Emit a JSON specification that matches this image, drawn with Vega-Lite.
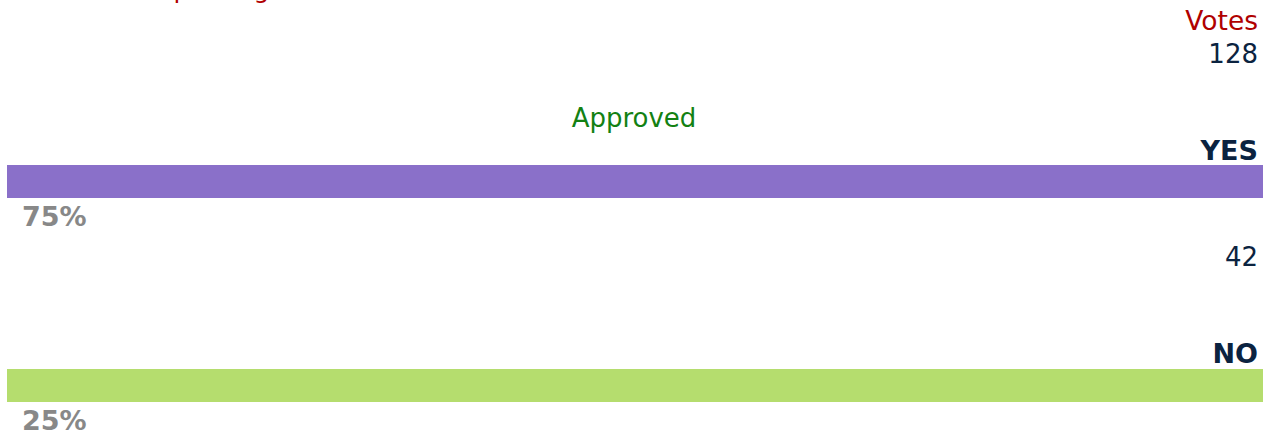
{
  "$schema": "https://vega.github.io/schema/vega-lite/v6.json",
  "width": 1272,
  "height": 435,
  "autosize": {"type": "none"},
  "padding": 0,
  "background": "white",
  "config": {"view": {"stroke": null}, "text": {"font": "DejaVu Sans"}},
  "data": {"values": [
    {"option": "YES", "votes": 128, "pct": "75%"},
    {"option": "NO", "votes": 42, "pct": "25%"}
  ]},
  "encoding": {
    "y": {"field": "option", "type": "nominal", "axis": null,
      "scale": {"domain": ["YES", "NO"], "range": [165, 402], "paddingInner": 0.838, "paddingOuter": 0}}
  },
  "layer": [
    {
      "mark": {"type": "rect"},
      "encoding": {
        "x": {"datum": 0, "type": "quantitative", "axis": null, "scale": {"domain": [0, 1], "range": [7, 1263]}},
        "x2": {"datum": 1},
        "color": {"field": "option", "type": "nominal", "legend": null,
          "scale": {"domain": ["YES", "NO"], "range": ["#8a70c9", "#b5dd6e"]}}
      }
    },
    {
      "transform": [{"filter": "datum.option === 'YES'"}],
      "mark": {"type": "text", "text": "Threshold for passing", "align": "left", "baseline": "alphabetic", "dy": -184, "dx": -7, "fontSize": 25, "color": "#b00000"},
      "encoding": {"x": {"datum": 0, "type": "quantitative"}}
    },
    {
      "transform": [{"filter": "datum.option === 'YES'"}],
      "mark": {"type": "text", "text": "Votes", "align": "right", "baseline": "middle", "dy": -160, "dx": -5, "fontSize": 26.5, "color": "#b00000"},
      "encoding": {"x": {"datum": 1, "type": "quantitative"}}
    },
    {
      "mark": {"type": "text", "align": "right", "baseline": "middle", "dy": -127, "dx": -5, "fontSize": 26, "color": "#0b2340"},
      "encoding": {"x": {"datum": 1, "type": "quantitative"}, "text": {"field": "votes", "type": "quantitative"}}
    },
    {
      "transform": [{"filter": "datum.option === 'YES'"}],
      "mark": {"type": "text", "text": "Approved", "align": "center", "baseline": "middle", "dy": -62.5, "dx": -1, "fontSize": 26, "color": "#138113"},
      "encoding": {"x": {"datum": 0.5, "type": "quantitative"}}
    },
    {
      "mark": {"type": "text", "align": "right", "baseline": "middle", "dy": -30, "dx": -5, "fontSize": 27, "fontWeight": "bold", "color": "#0b2340"},
      "encoding": {"x": {"datum": 1, "type": "quantitative"}, "text": {"field": "option", "type": "nominal"}}
    },
    {
      "mark": {"type": "text", "align": "left", "baseline": "middle", "dy": 36.5, "dx": 15, "fontSize": 27, "fontWeight": "bold", "color": "#888888"},
      "encoding": {"x": {"datum": 0, "type": "quantitative"}, "text": {"field": "pct", "type": "nominal"}}
    }
  ]
}
